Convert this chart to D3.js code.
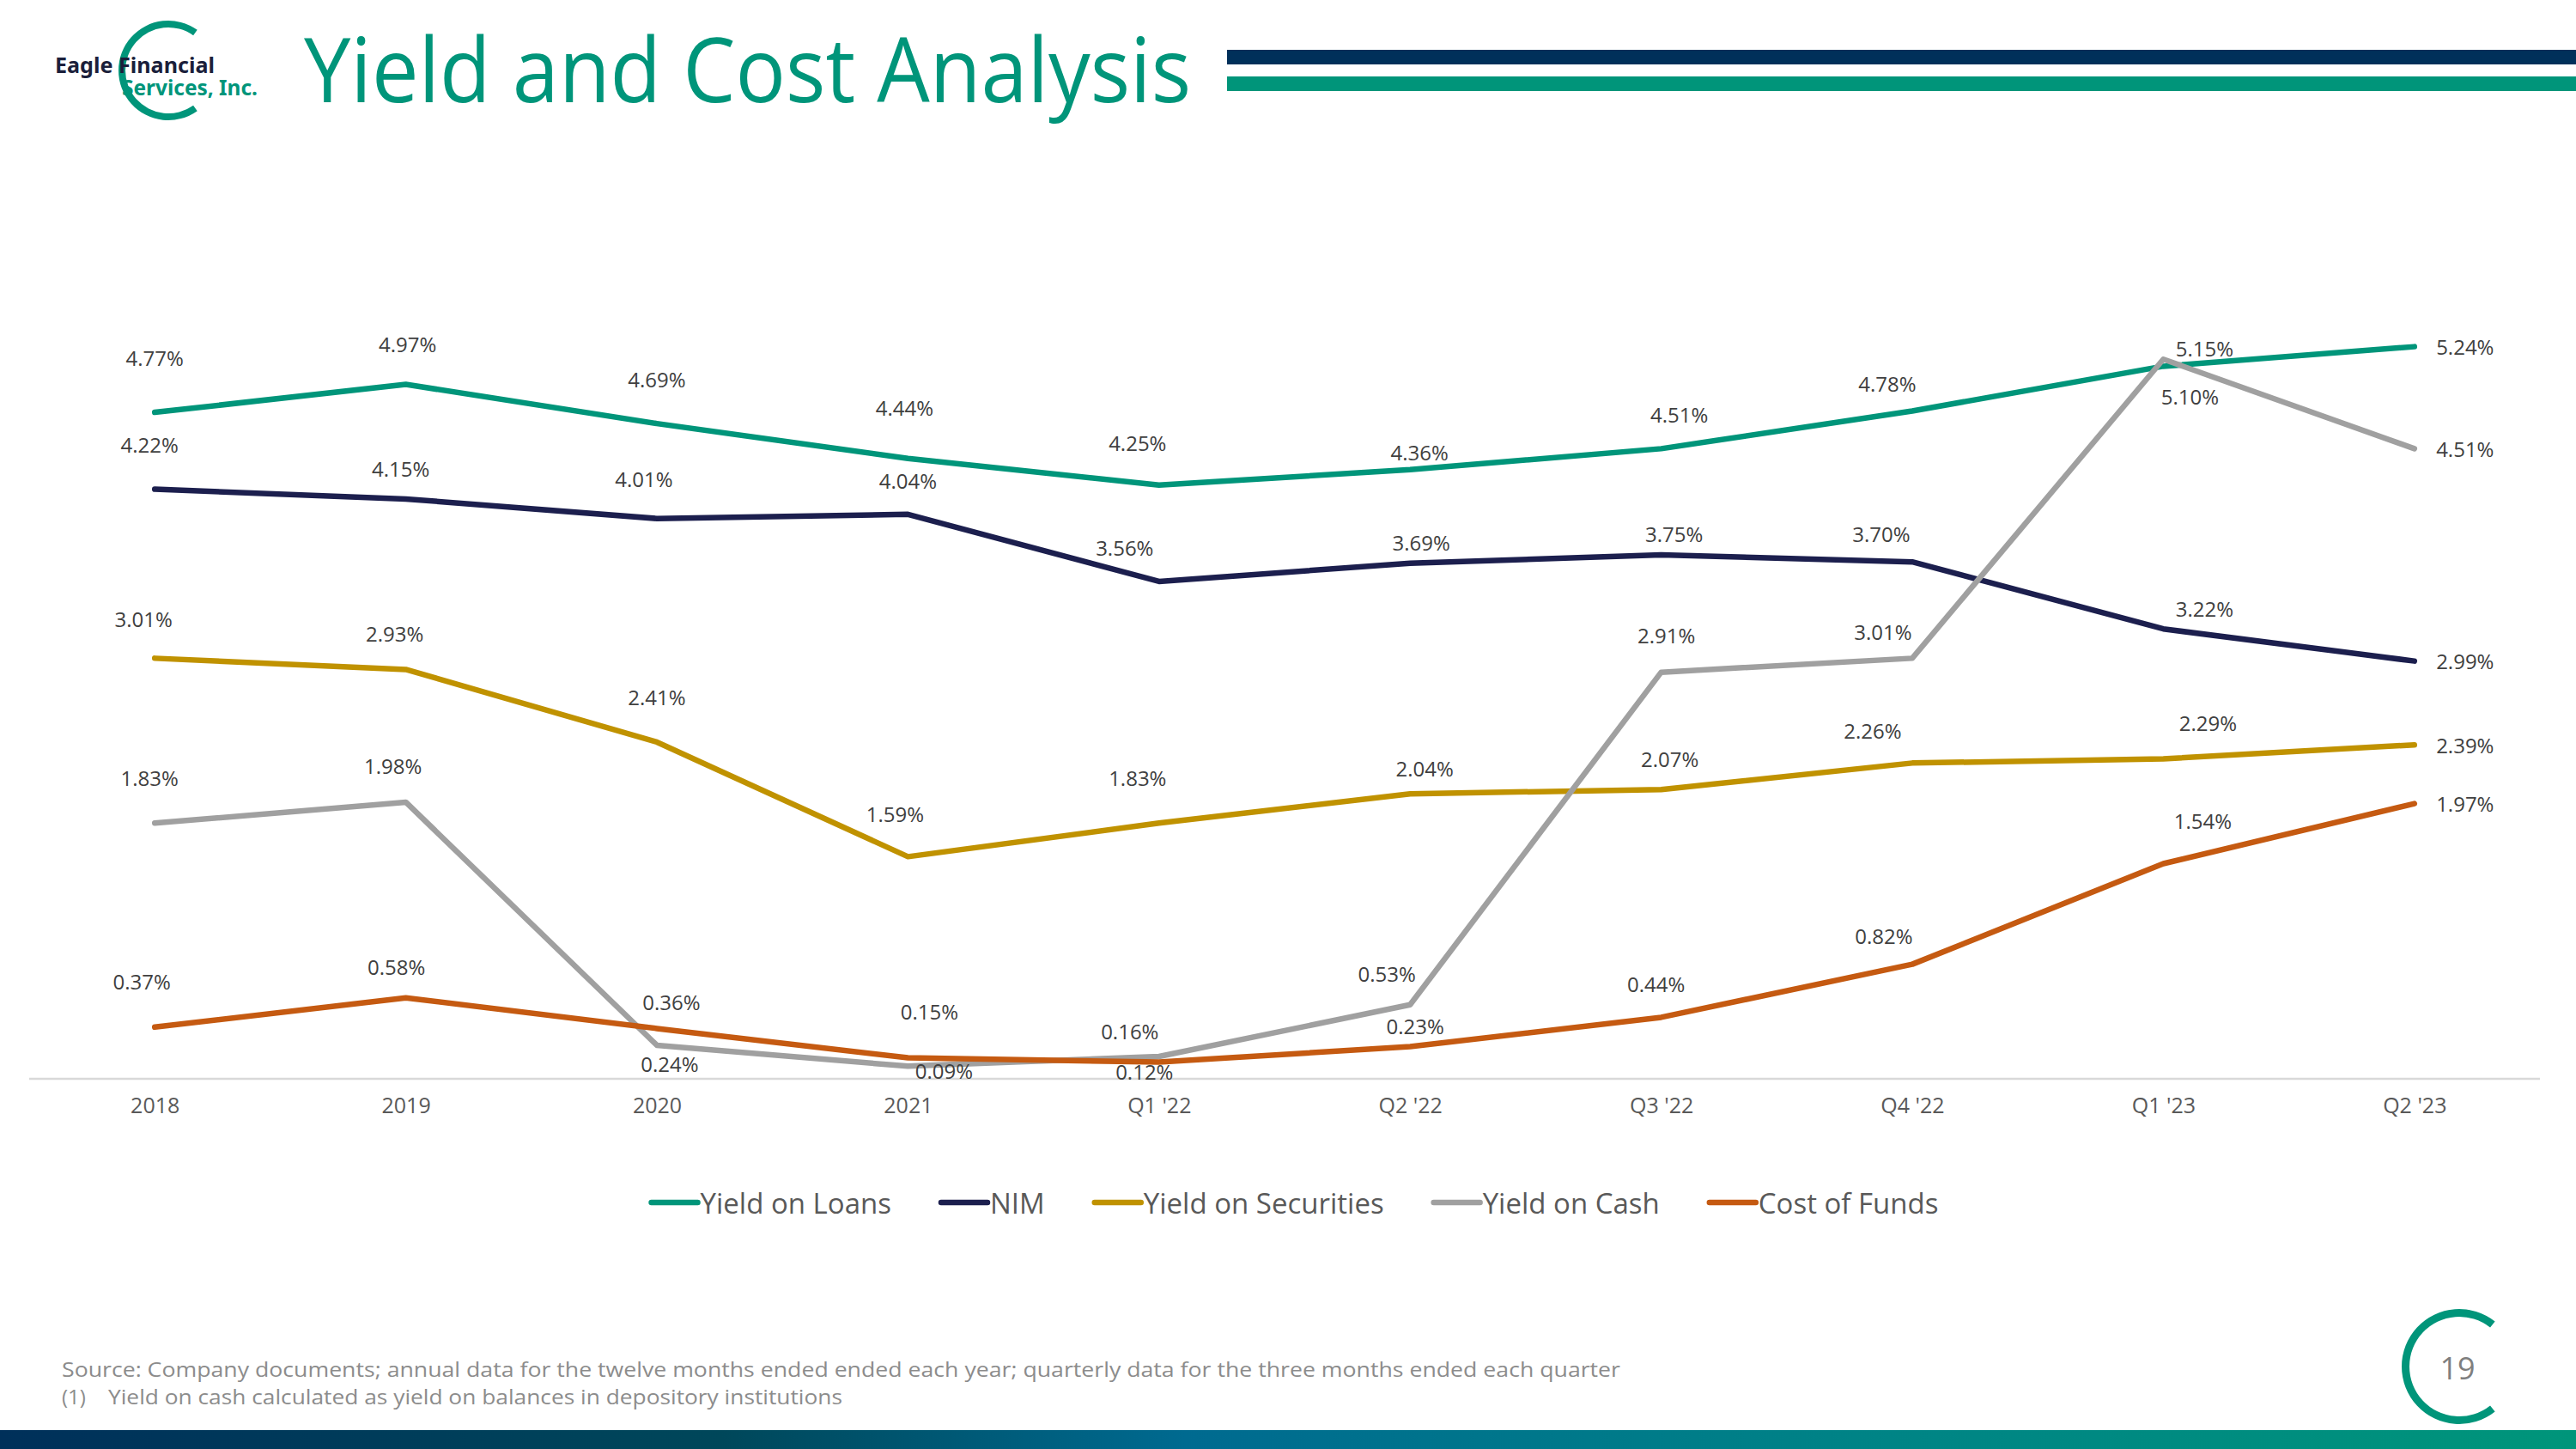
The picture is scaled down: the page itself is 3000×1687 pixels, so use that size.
<!DOCTYPE html>
<html>
<head>
<meta charset="utf-8">
<script src="https://cdn.jsdelivr.net/npm/d3@7"></script>
<style>
  body { margin: 0; background: #fff; }
  svg { display: block; }
</style>
</head>
<body>
<div id="chart"></div>
<script>
// Chart values.
var periods = ["2018", "2019", "2020", "2021", "Q1 '22", "Q2 '22", "Q3 '22", "Q4 '22", "Q1 '23", "Q2 '23"];
var yieldOnLoans = [4.77, 4.97, 4.69, 4.44, 4.25, 4.36, 4.51, 4.78, 5.10, 5.24];
var nim = [4.22, 4.15, 4.01, 4.04, 3.56, 3.69, 3.75, 3.70, 3.22, 2.99];
var yieldOnSecurities = [3.01, 2.93, 2.41, 1.59, 1.83, 2.04, 2.07, 2.26, 2.29, 2.39];
var yieldOnCash = [1.83, 1.98, 0.24, 0.09, 0.16, 0.53, 2.91, 3.01, 5.15, 4.51];
var costOfFunds = [0.37, 0.58, 0.36, 0.15, 0.12, 0.23, 0.44, 0.82, 1.54, 1.97];
var seriesNames = ["Yield on Loans", "NIM", "Yield on Securities", "Yield on Cash", "Cost of Funds"];

var footnoteSource = "Source: Company documents; annual data for the twelve months ended ended each year; quarterly data for the three months ended each quarter";
var footnoteOne = "Yield on cash calculated as yield on balances in depository institutions";

// Page size.
var width = 3000;
var height = 1687;

var teal = "#00957a";
var navy = "#00305a";
var colors = ["#00957a", "#1c1f4e", "#c09200", "#a0a0a0", "#c55a11"];

// Data label nudges (px from the point), the slide has hand-placed labels.
var labelNudge = [
  [[0, -64], [2, -47], [0, -52], [-4, -59], [-25, -49], [11, -20], [21, -40], [-29, -32], [31, 35], [59, 0]],
  [[-6, -52], [-6, -35], [-15, -46], [0, -39], [-40, -39], [13, -24], [15, -25], [-36, -33], [48, -24], [59, 0]],
  [[-13, -46], [-13, -42], [0, -52], [-15, -50], [-25, -53], [17, -30], [10, -36], [-46, -38], [52, -42], [59, 0]],
  [[-6, -53], [-15, -42], [15, 22], [42, 5], [-34, -29], [-27, -36], [6, -43], [-34, -31], [48, -13], [59, 0]],
  [[-15, -53], [-11, -36], [17, -31], [25, -54], [-17, 11], [6, -24], [-6, -39], [-33, -33], [46, -50], [59, 0]]
];

var series = [yieldOnLoans, nim, yieldOnSecurities, yieldOnCash, costOfFunds].map(function(values, i) {
  return { name: seriesNames[i], values: values, color: colors[i], nudge: labelNudge[i] };
});

var labelFont = "'Open Sans', 'DejaVu Sans', sans-serif";

var svg = d3.select("#chart").append("svg")
  .attr("width", width)
  .attr("height", height);

var defs = svg.append("defs");

// ---- Header ----
var logoArc = d3.arc()
  .innerRadius(50)
  .outerRadius(58)
  .startAngle(Math.PI / 2 + 0.95)
  .endAngle(Math.PI / 2 + 2 * Math.PI - 0.95);

svg.append("path")
  .attr("d", logoArc)
  .attr("transform", "translate(196,82)")
  .attr("fill", teal);

svg.append("text")
  .attr("x", 64)
  .attr("y", 85)
  .attr("textLength", 186)
  .attr("lengthAdjust", "spacingAndGlyphs")
  .style("font-family", "'Noto Sans', sans-serif")
  .style("font-weight", 700)
  .style("font-size", "25px")
  .style("fill", "#1b1f3b")
  .text("Eagle Financial");

svg.append("text")
  .attr("x", 142)
  .attr("y", 111)
  .attr("textLength", 158)
  .attr("lengthAdjust", "spacingAndGlyphs")
  .style("font-family", "'Noto Sans', sans-serif")
  .style("font-weight", 700)
  .style("font-size", "25px")
  .style("fill", teal)
  .text("Services, Inc.");

svg.append("text")
  .attr("x", 354)
  .attr("y", 119)
  .attr("textLength", 1033)
  .attr("lengthAdjust", "spacingAndGlyphs")
  .style("font-family", labelFont)
  .style("font-size", "104px")
  .style("fill", teal)
  .text("Yield and Cost Analysis");

svg.append("rect")
  .attr("x", 1429).attr("y", 58)
  .attr("width", width - 1429).attr("height", 17)
  .attr("fill", navy);

svg.append("rect")
  .attr("x", 1429).attr("y", 89)
  .attr("width", width - 1429).attr("height", 17)
  .attr("fill", teal);

// ---- Chart ----
var x = d3.scalePoint()
  .domain(periods)
  .range([34, 2958])
  .padding(0.5);

var y = d3.scaleLinear()
  .domain([0, 6])
  .range([1256, 280]);

// Category axis: a light line with labels, no ticks.
var xAxis = d3.axisBottom(x).tickSize(0).tickPadding(22);

var axisG = svg.append("g")
  .attr("transform", "translate(0," + y(0) + ")")
  .call(xAxis);

axisG.select(".domain")
  .attr("d", "M34,0H2958")
  .attr("stroke", "#d9d9d9")
  .attr("stroke-width", 2.5);

axisG.selectAll(".tick text")
  .style("font-family", labelFont)
  .style("font-size", "25px")
  .style("fill", "#595959");

var line = d3.line()
  .x(function(d, i) { return x(periods[i]); })
  .y(function(d) { return y(d); });

var lines = svg.append("g");

lines.selectAll("path")
  .data(series)
  .enter().append("path")
  .attr("d", function(d) { return line(d.values); })
  .attr("fill", "none")
  .attr("stroke", function(d) { return d.color; })
  .attr("stroke-width", 6.5)
  .attr("stroke-linejoin", "round")
  .attr("stroke-linecap", "round");

var fmt = d3.format(".2f");

var labels = svg.append("g");

series.forEach(function(s) {
  labels.append("g").selectAll("text")
    .data(s.values)
    .enter().append("text")
    .attr("x", function(d, i) { return x(periods[i]) + s.nudge[i][0]; })
    .attr("y", function(d, i) { return y(d) + s.nudge[i][1]; })
    .attr("text-anchor", "middle")
    .attr("dominant-baseline", "central")
    .style("font-family", labelFont)
    .style("font-size", "24px")
    .style("fill", "#404040")
    .text(function(d) { return fmt(d) + "%"; });
});

// ---- Legend ----
var swatch = 60;
var legendGap = 54;
var legend = svg.append("g");
var lx = 0;

series.forEach(function(s) {
  var g = legend.append("g").attr("transform", "translate(" + lx + ",0)");
  g.append("line")
    .attr("x1", 4).attr("x2", swatch - 2)
    .attr("y1", 0).attr("y2", 0)
    .attr("stroke", s.color)
    .attr("stroke-width", 6.5)
    .attr("stroke-linecap", "round");
  var t = g.append("text")
    .attr("x", swatch + 1)
    .attr("y", 0)
    .attr("dominant-baseline", "central")
    .style("font-family", labelFont)
    .style("font-size", "33px")
    .style("fill", "#595959")
    .text(s.name);
  lx += swatch + 1 + t.node().getComputedTextLength() + legendGap;
});

legend.attr("transform", "translate(" + (1506 - (lx - legendGap) / 2) + ",1400)");

// ---- Footer ----
svg.append("text")
  .attr("x", 72)
  .attr("y", 1603)
  .attr("textLength", 1815)
  .attr("lengthAdjust", "spacingAndGlyphs")
  .style("font-family", labelFont)
  .style("font-size", "24px")
  .style("fill", "#8c8c8c")
  .text(footnoteSource);

svg.append("text")
  .attr("x", 72)
  .attr("y", 1635)
  .style("font-family", labelFont)
  .style("font-size", "24px")
  .style("fill", "#8c8c8c")
  .text("(1)");

svg.append("text")
  .attr("x", 126)
  .attr("y", 1635)
  .attr("textLength", 855)
  .attr("lengthAdjust", "spacingAndGlyphs")
  .style("font-family", labelFont)
  .style("font-size", "24px")
  .style("fill", "#8c8c8c")
  .text(footnoteOne);

// Page number ring.
var pageArc = d3.arc()
  .innerRadius(58)
  .outerRadius(67)
  .startAngle(Math.PI / 2 + 0.9)
  .endAngle(Math.PI / 2 + 2 * Math.PI - 0.9);

svg.append("path")
  .attr("d", pageArc)
  .attr("transform", "translate(2864,1591)")
  .attr("fill", teal);

svg.append("text")
  .attr("x", 2862)
  .attr("y", 1606)
  .attr("text-anchor", "middle")
  .style("font-family", labelFont)
  .style("font-size", "36px")
  .style("fill", "#7f7f7f")
  .text("19");

// Bottom gradient band.
var grad = defs.append("linearGradient")
  .attr("id", "band")
  .attr("x1", "0%").attr("x2", "100%")
  .attr("y1", "0%").attr("y2", "0%");

[["0%", "#00305a"], ["28%", "#00475a"], ["46%", "#006a90"], ["72%", "#008386"], ["100%", "#00957a"]]
  .forEach(function(st) {
    grad.append("stop").attr("offset", st[0]).attr("stop-color", st[1]);
  });

svg.append("rect")
  .attr("x", 0).attr("y", 1665)
  .attr("width", width).attr("height", height - 1665)
  .attr("fill", "url(#band)");
</script>
</body>
</html>
